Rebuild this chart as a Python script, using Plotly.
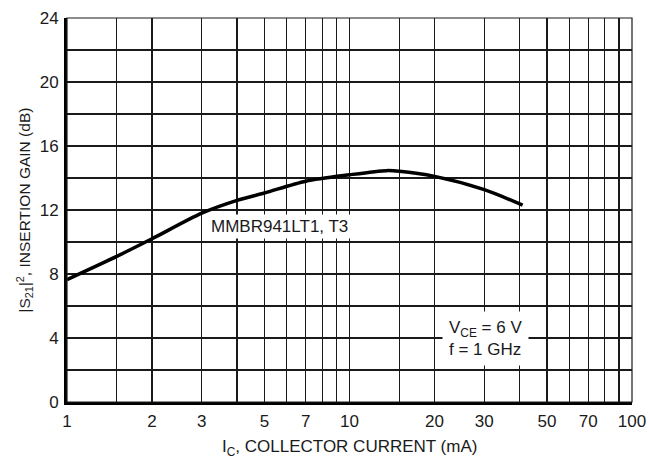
import plotly.graph_objects as go

# Data
ic_ma = [1, 1.5, 2, 3, 4, 5, 7, 10, 13.5, 15, 20, 30, 41]
gain_db = [7.65, 9.1, 10.2, 11.8, 12.6, 13.06, 13.8, 14.2, 14.46, 14.42, 14.1, 13.27, 12.3]

x_tickvals = [1, 2, 3, 5, 7, 10, 20, 30, 50, 70, 100]
x_ticktext = ["1", "2", "3", "5", "7", "10", "20", "30", "50", "70", "100"]
x_minor = [1.5, 4, 6, 8, 9, 15, 40, 60, 80, 90]
y_tickvals = [0, 4, 8, 12, 16, 20, 24]

FONT = "Liberation Sans Narrow, Arial Narrow, Liberation Sans, Arial, sans-serif"
GRID = "#1a1a1a"
TXT = "#1a1a1a"

fig = go.Figure()
fig.add_trace(go.Scatter(
    x=ic_ma, y=gain_db, mode="lines",
    line=dict(color="black", width=3.5, shape="spline", smoothing=0.8),
    showlegend=False, hoverinfo="skip",
))

fig.update_layout(
    width=649, height=464,
    margin=dict(l=67, r=17, t=18, b=62, autoexpand=False),
    paper_bgcolor="white", plot_bgcolor="white",
    font=dict(family=FONT, size=17, color=TXT),
    xaxis=dict(
        type="log", range=[0, 2], automargin=False,
        tickmode="array", tickvals=x_tickvals, ticktext=x_ticktext,
        showgrid=True, gridcolor=GRID, gridwidth=1.2,
        minor=dict(tickmode="array", tickvals=x_minor, showgrid=True,
                   gridcolor=GRID, gridwidth=1.2, ticks=""),
        showline=True, linecolor="black", linewidth=3,
        ticks="outside", ticklen=2, tickcolor="rgba(0,0,0,0)",
        tickfont=dict(size=17, family=FONT, color=TXT),
        zeroline=False,
    ),
    yaxis=dict(
        range=[0, 24], automargin=False,
        tickmode="array", tickvals=y_tickvals,
        showgrid=True, gridcolor=GRID, gridwidth=1.2,
        minor=dict(dtick=2, tick0=0, showgrid=True, gridcolor=GRID,
                   gridwidth=1.2, ticks=""),
        showline=True, linecolor="black", linewidth=3,
        ticks="outside", ticklen=2, tickcolor="rgba(0,0,0,0)",
        tickfont=dict(size=17, family=FONT, color=TXT),
        zeroline=False,
    ),
    shapes=[dict(type="rect", xref="paper", yref="paper", x0=0, x1=1, y0=0, y1=1,
                 line=dict(color=GRID, width=1.2), layer="above")],
    annotations=[
        dict(x=0.7515, y=10.96, xref="x", yref="y",
             text="MMBR941LT1, T3", showarrow=False,
             bgcolor="white", borderpad=2,
             font=dict(size=17, family=FONT, color=TXT)),
        dict(x=1.481, y=3.96, xref="x", yref="y",
             text="V<sub>CE</sub> = 6 V<br>f = 1 GHz", showarrow=False,
             align="left", bgcolor="white", borderpad=6,
             font=dict(size=17, family=FONT, color=TXT)),
        dict(x=0.5, y=-0.085, xref="paper", yref="paper", xanchor="center", yanchor="top",
             text="I<sub>C</sub>, COLLECTOR CURRENT (mA)", showarrow=False,
             font=dict(size=17, family=FONT, color=TXT)),
        dict(x=-0.075, y=0.5, xref="paper", yref="paper", xanchor="center", yanchor="middle",
             text="|S<sub>21</sub>|<sup>2</sup>, INSERTION GAIN (dB)", showarrow=False,
             textangle=-90, font=dict(size=15.5, family=FONT, color=TXT)),
    ],
)

# remove the default page margin so the 649x464 figure fills the window exactly
page_css = ("document.body.style.margin='0';document.body.style.overflow='hidden';"
            "document.documentElement.style.overflow='hidden';")
fig.write_html("out.html", post_script=page_css,
               config={"displayModeBar": False, "staticPlot": True})
